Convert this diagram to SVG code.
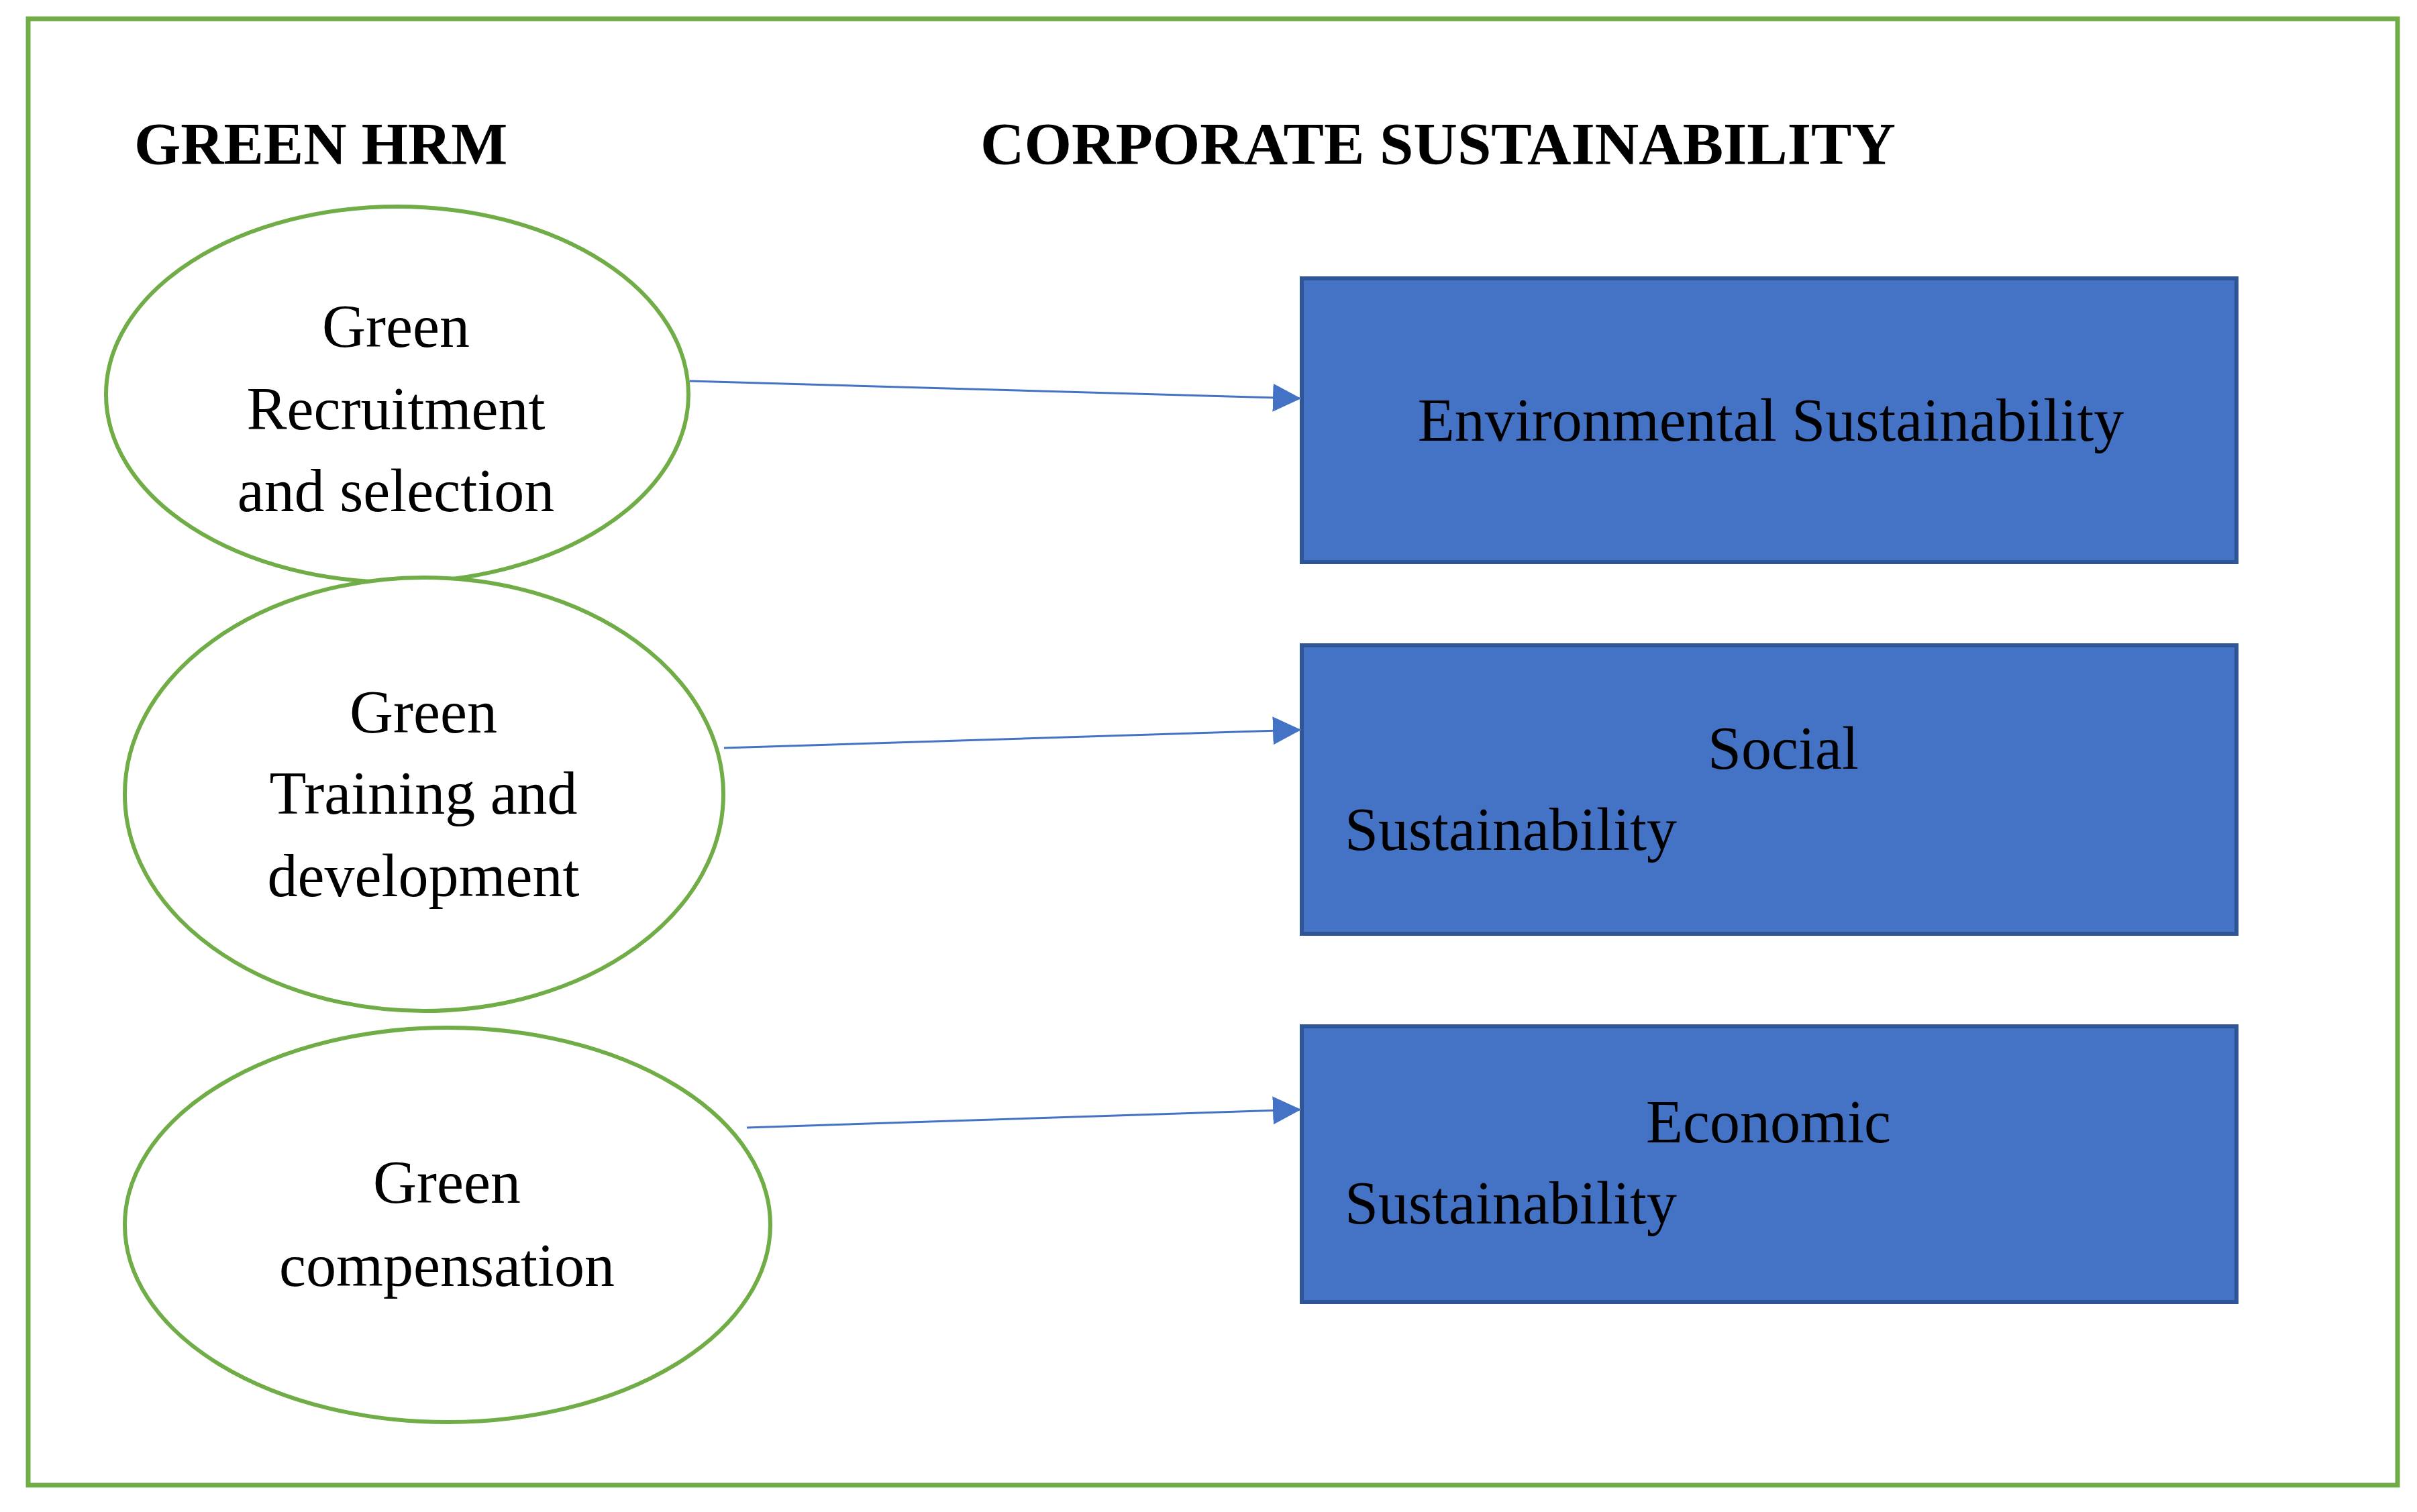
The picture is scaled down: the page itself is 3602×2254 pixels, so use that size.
<svg xmlns="http://www.w3.org/2000/svg" width="3602" height="2254" viewBox="0 0 3602 2254">
<style>
.frame{fill:none;stroke:#70AD47;stroke-width:7}
.ell{fill:#FFFFFF;stroke:#70AD47;stroke-width:6}
.box{fill:#4472C4;stroke:#2F5597;stroke-width:6}
.t{font-family:"Liberation Serif","Times New Roman",serif;font-size:90px;fill:#000000}
.h{font-family:"Liberation Serif","Times New Roman",serif;font-size:89px;font-weight:bold;fill:#000000}
.mid{text-anchor:middle}
.conn{stroke:#4472C4;stroke-width:3;fill:none}
</style>
<defs>
<marker id="arrow" markerUnits="userSpaceOnUse" markerWidth="44" markerHeight="42" refX="42" refY="21" orient="auto">
<path d="M0,0 L42,21 L0,42 Z" fill="#4472C4"/>
</marker>
</defs>
<rect width="3602" height="2254" fill="#FFFFFF"/>
<rect class="frame" x="42" y="28" width="3531" height="2186"/>
<g id="titles">
<text class="h" x="200" y="244">GREEN HRM</text>
<text class="h" x="1461" y="244" textLength="1364" lengthAdjust="spacingAndGlyphs">CORPORATE SUSTAINABILITY</text>
</g>
<g id="node-recruitment">
<ellipse class="ell" cx="592" cy="588" rx="434" ry="280"/>
<text class="t mid" x="590" y="517">Green</text>
<text class="t mid" x="590" y="640">Recruitment</text>
<text class="t mid" x="590" y="762">and selection</text>
</g>
<g id="node-training">
<ellipse class="ell" cx="632" cy="1184" rx="446" ry="323"/>
<text class="t mid" x="631" y="1092">Green</text>
<text class="t mid" x="631" y="1213">Training and</text>
<text class="t mid" x="631" y="1336">development</text>
</g>
<g id="node-compensation">
<ellipse class="ell" cx="667" cy="1826" rx="481" ry="294"/>
<text class="t mid" x="666" y="1793">Green</text>
<text class="t mid" x="666" y="1917">compensation</text>
</g>
<g id="node-environmental">
<rect class="box" x="1940" y="415" width="1393" height="423"/>
<text class="t mid" x="2639" y="657">Environmental Sustainability</text>
</g>
<g id="node-social">
<rect class="box" x="1940" y="962" width="1393" height="430"/>
<text class="t" x="2545" y="1146">Social</text>
<text class="t" x="2004" y="1267">Sustainability</text>
</g>
<g id="node-economic">
<rect class="box" x="1940" y="1530" width="1393" height="411"/>
<text class="t" x="2453" y="1703">Economic</text>
<text class="t" x="2004" y="1824">Sustainability</text>
</g>
<g id="connectors">
<line class="conn" x1="1028" y1="568" x2="1939" y2="594" marker-end="url(#arrow)"/>
<line class="conn" x1="1079" y1="1115" x2="1939" y2="1088" marker-end="url(#arrow)"/>
<line class="conn" x1="1113" y1="1681" x2="1939" y2="1654" marker-end="url(#arrow)"/>
</g>
</svg>
